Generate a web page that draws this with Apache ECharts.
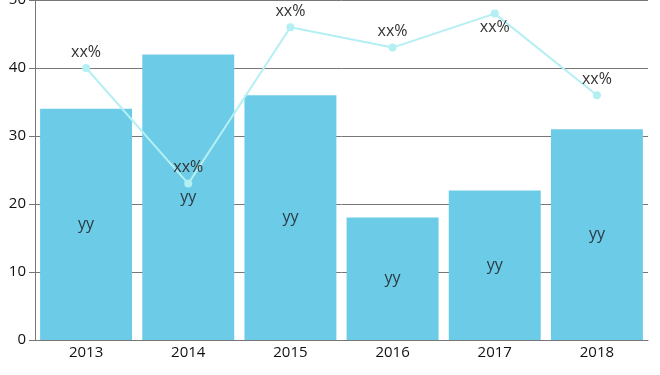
<!DOCTYPE html>
<html><head><meta charset="utf-8">
<script src="https://cdn.jsdelivr.net/npm/echarts@6/dist/echarts.min.js"></script>
<style>html,body{margin:0;padding:0;background:#fff}#c{width:660px;height:375px}</style>
</head><body><div id="c"></div>
<script>
var categories = ['2013','2014','2015','2016','2017','2018'];
var barValues = [34, 42, 36, 18, 22, 31];
var lineValues = [40, 23, 46, 43, 48, 36];
var barLabels = ['yy','yy','yy','yy','yy','yy'];
var lineLabels = ['xx%','xx%','xx%','xx%','xx%','xx%'];
var yTicks = [0, 10, 20, 30, 40, 50];

var font = '"Open Sans", "Noto Sans", sans-serif';
var chart = echarts.init(document.getElementById('c'), null, {renderer:'canvas'});
chart.setOption({
  animation: false,
  grid: {left: 35, right: 12, top: 0, bottom: 35, containLabel: false, outerBoundsMode: 'none'},
  xAxis: {
    type: 'category', data: categories,
    axisLine: {lineStyle: {color: '#777'}},
    axisTick: {alignWithLabel: true, length: 4, lineStyle: {color: '#777'}},
    axisLabel: {color: '#111', fontSize: 15, fontFamily: font, margin: 5}
  },
  yAxis: {
    type: 'value', min: yTicks[0], max: yTicks[yTicks.length-1], interval: 10,
    axisLine: {show: true, lineStyle: {color: '#777'}},
    axisTick: {show: true, length: 6, lineStyle: {color: '#777'}},
    axisLabel: {color: '#111', fontSize: 15, fontFamily: font, margin: 9},
    splitLine: {lineStyle: {color: '#777'}}
  },
  series: [{
    type: 'bar', data: barValues.map(function(v,i){return {value:v};}),
    barCategoryGap: '10%',
    itemStyle: {color: '#6ccbe6'},
    label: {show: true, position: 'inside', color: '#2b3a44', fontSize: 16, fontFamily: font,
      formatter: function(p){return barLabels[p.dataIndex];}}
  },{
    type: 'line', data: lineValues.map(function(v,i){
      return i === 4 ? {value: v, label: {position: 'bottom', distance: 2}} : {value: v};
    }),
    symbol: 'circle', symbolSize: 8,
    lineStyle: {color: '#b4eff4', width: 2},
    itemStyle: {color: '#b4eff4'},
    label: {show: true, position: 'top', distance: 4, color: '#333', fontSize: 16, fontFamily: font,
      formatter: function(p){return lineLabels[p.dataIndex];}}
  }]
});
</script></body></html>
